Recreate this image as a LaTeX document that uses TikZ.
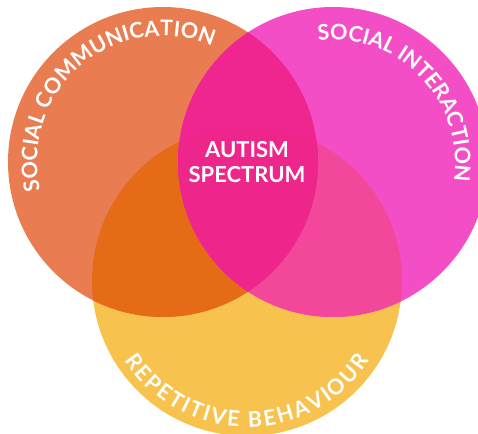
\documentclass[tikz,border=0pt]{standalone}
\usepackage{fontspec}
\setmainfont{Lato}
\usetikzlibrary{decorations.text}

\definecolor{commcol}{HTML}{E97C50}
\definecolor{intcol}{HTML}{F44EC6}
\definecolor{repcol}{HTML}{F7C34E}
\definecolor{commrep}{HTML}{E66B17}
\definecolor{intrep}{HTML}{F2479B}
\definecolor{commint}{HTML}{EF2590}
\definecolor{allthree}{HTML}{EE268C}
\newcommand{\arcfont}{\bfseries\fontsize{21.5}{22}\selectfont}

\begin{document}
\begin{tikzpicture}[x=1pt,y=1pt]
    \tikzstyle{mainlabel}=[white,font=\bfseries\fontsize{22}{25}\selectfont,align=center]
    \tikzstyle{arctext}=[decorate,decoration={text along path,text color=white,text align={fit to path}}]
    \def\rad{155}
    \useasboundingbox (0,0) rectangle (478,433);

    \coordinate (C) at (163,271);
    \coordinate (I) at (333,271);
    \coordinate (R) at (247,152);

    \foreach \pos/\col in {R/repcol, C/commcol, I/intcol}
        \fill[\col] (\pos) circle (\rad);

    \foreach \a/\b/\col in {C/R/commrep, I/R/intrep, C/I/commint}
    {
        \begin{scope}
            \clip (\a) circle (\rad);
            \fill[\col] (\b) circle (\rad);
        \end{scope}
    }
    \begin{scope}
        \clip (C) circle (\rad);
        \clip (I) circle (\rad);
        \fill[allthree] (R) circle (\rad);
    \end{scope}

    \node[mainlabel] (asd) at (247,271) {AUTISM\\SPECTRUM};

    \path[arctext,decoration={text={|\arcfont|SOCIAL COMMUNICATION}}]
        (C) ++(193:126) arc (193:67:126);
    \path[arctext,decoration={text={|\arcfont|SOCIAL INTERACTION}}]
        (I) ++(97:122) arc (97:-7:122);
    \path[arctext,decoration={text={|\arcfont|REPETITIVE BEHAVIOUR}}]
        (R) ++(213:146) arc (213:327:146);
\end{tikzpicture}
\end{document}
